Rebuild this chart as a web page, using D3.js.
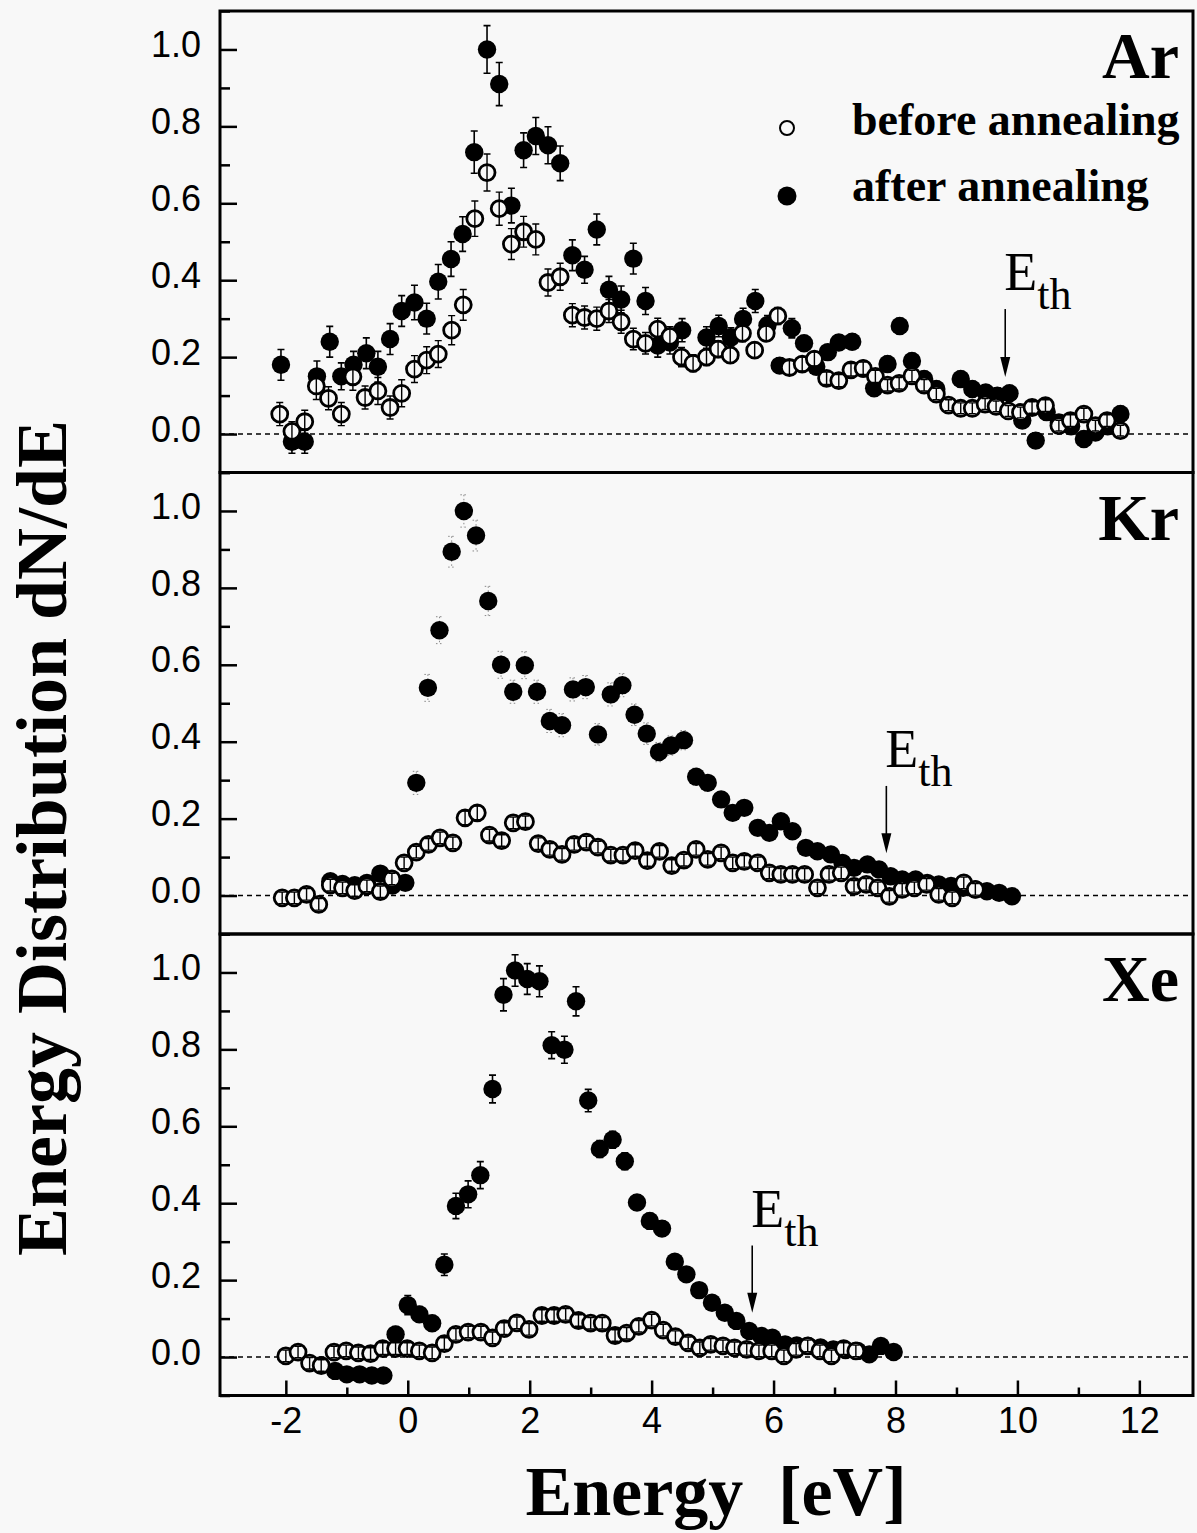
<!DOCTYPE html>
<html>
<head>
<meta charset="utf-8">
<script src="https://cdn.jsdelivr.net/npm/d3@7/dist/d3.min.js"></script>
<style>
body{margin:0;background:#f8f8f8}
svg{display:block}
</style>
</head>
<body>
<div id="chart"></div>
<script>
// rows are [energy eV, dN/dE, error]
var arBefore = [[-2.1,0.052,0.03],[-1.9,0.007,0.025],[-1.69,0.032,0.03],[-1.5,0.125,0.035],[-1.3,0.093,0.03],[-1.09,0.052,0.03],[-0.9,0.149,0.035],[-0.7,0.095,0.03],[-0.49,0.112,0.035],[-0.29,0.069,0.03],[-0.1,0.106,0.035],[0.11,0.169,0.035],[0.31,0.192,0.035],[0.5,0.208,0.035],[0.72,0.27,0.038],[0.91,0.336,0.04],[1.1,0.56,0.046],[1.3,0.68,0.048],[1.5,0.586,0.043],[1.7,0.494,0.04],[1.9,0.526,0.04],[2.1,0.506,0.04],[2.3,0.394,0.035],[2.5,0.409,0.035],[2.7,0.309,0.03],[2.9,0.303,0.03],[3.1,0.30,0.03],[3.3,0.32,0.03],[3.5,0.292,0.03],[3.7,0.247,0.028],[3.9,0.236,0.028],[4.1,0.273,0.028],[4.3,0.254,0.025],[4.49,0.2,0.025],[4.68,0.184,0.022],[4.9,0.2,0.022],[5.09,0.221,0.022],[5.29,0.205,0.02],[5.49,0.262,0.022],[5.69,0.218,0.02],[5.88,0.262,0.02],[6.07,0.307,0.022],[6.26,0.173,0.018],[6.47,0.182,0.018],[6.67,0.195,0.018],[6.87,0.145,0.016],[7.07,0.139,0.016],[7.27,0.167,0.016],[7.47,0.171,0.016],[7.67,0.15,0.016],[7.87,0.127,0.015],[8.06,0.132,0.015],[8.27,0.151,0.015],[8.47,0.127,0.015],[8.67,0.104,0.015],[8.87,0.075,0.014],[9.07,0.067,0.014],[9.26,0.067,0.014],[9.47,0.078,0.014],[9.65,0.072,0.014],[9.85,0.06,0.014],[10.05,0.056,0.014],[10.24,0.069,0.015],[10.46,0.074,0.015],[10.68,0.022,0.014],[10.87,0.035,0.015],[11.09,0.052,0.015],[11.28,0.022,0.014],[11.47,0.035,0.015],[11.69,0.009,0.014]];

var arAfter = [[-2.08,0.18,0.04],[-1.9,-0.02,0.03],[-1.69,-0.02,0.03],[-1.49,0.15,0.04],[-1.28,0.24,0.04],[-1.09,0.15,0.035],[-0.89,0.18,0.035],[-0.68,0.21,0.04],[-0.49,0.175,0.04],[-0.29,0.247,0.04],[-0.1,0.32,0.04],[0.11,0.342,0.045],[0.31,0.30,0.04],[0.5,0.396,0.045],[0.71,0.455,0.045],[0.9,0.52,0.045],[1.09,0.733,0.055],[1.3,1.0,0.062],[1.5,0.91,0.056],[1.7,0.594,0.045],[1.9,0.738,0.045],[2.1,0.775,0.048],[2.3,0.751,0.048],[2.5,0.704,0.045],[2.7,0.465,0.04],[2.9,0.427,0.035],[3.1,0.532,0.04],[3.3,0.375,0.035],[3.5,0.35,0.035],[3.7,0.456,0.04],[3.9,0.346,0.035],[4.1,0.23,0.03],[4.3,0.238,0.03],[4.5,0.27,0.03],[4.9,0.251,0.028],[5.1,0.281,0.028],[5.3,0.251,0.025],[5.5,0.299,0.028],[5.7,0.346,0.03],[5.9,0.283,0.025],[6.1,0.178,0.02],[6.3,0.275,0.025],[6.5,0.236,0.02],[6.7,0.175,0.02],[6.89,0.213,0.02],[7.07,0.238,0.02],[7.29,0.24,0.02],[7.47,0.17,0.02],[7.65,0.119,0.02],[7.87,0.182,0.02],[8.07,0.281,0.02],[8.27,0.19,0.02],[8.47,0.143,0.02],[8.67,0.117,0.02],[9.07,0.143,0.02],[9.26,0.117,0.02],[9.48,0.108,0.02],[9.67,0.10,0.02],[9.87,0.106,0.02],[10.08,0.035,0.02],[10.3,-0.017,0.02],[10.48,0.057,0.02],[10.68,0.03,0.02],[10.88,0.02,0.02],[11.09,-0.013,0.02],[11.28,0.004,0.02],[11.48,0.02,0.02],[11.69,0.052,0.02]];

var krBefore = [[-2.06,-0.006,0.015],[-1.86,-0.006,0.015],[-1.66,0.003,0.015],[-1.46,-0.023,0.015],[-1.27,0.027,0.015],[-1.07,0.02,0.015],[-0.87,0.013,0.015],[-0.67,0.025,0.015],[-0.45,0.01,0.015],[-0.26,0.043,0.015],[-0.06,0.085,0.015],[0.14,0.113,0.015],[0.34,0.133,0.015],[0.53,0.15,0.015],[0.74,0.137,0.015],[0.94,0.202,0.018],[1.14,0.215,0.018],[1.34,0.157,0.015],[1.54,0.143,0.015],[1.73,0.189,0.015],[1.93,0.192,0.015],[2.14,0.135,0.015],[2.33,0.12,0.015],[2.53,0.107,0.015],[2.73,0.133,0.015],[2.93,0.139,0.015],[3.12,0.126,0.015],[3.33,0.105,0.015],[3.53,0.105,0.015],[3.73,0.117,0.015],[3.93,0.091,0.015],[4.13,0.115,0.015],[4.33,0.078,0.015],[4.53,0.092,0.015],[4.73,0.12,0.015],[4.92,0.094,0.015],[5.14,0.111,0.015],[5.33,0.085,0.015],[5.52,0.089,0.015],[5.74,0.085,0.015],[5.93,0.059,0.015],[6.12,0.055,0.015],[6.31,0.055,0.015],[6.51,0.055,0.015],[6.72,0.02,0.015],[6.91,0.055,0.015],[7.11,0.059,0.015],[7.32,0.024,0.015],[7.52,0.029,0.015],[7.71,0.02,0.015],[7.9,-0.002,0.015],[8.11,0.016,0.015],[8.31,0.02,0.015],[8.51,0.029,0.015],[8.71,0.003,0.015],[8.93,-0.006,0.015],[9.12,0.033,0.015],[9.31,0.016,0.015]];

var krAfter = [[-1.27,0.037,0.02],[-1.07,0.03,0.02],[-0.87,0.027,0.02],[-0.67,0.033,0.02],[-0.45,0.057,0.02],[-0.25,0.026,0.02],[-0.04,0.033,0.02],[0.14,0.293,0.03],[0.33,0.54,0.035],[0.52,0.69,0.035],[0.72,0.894,0.04],[0.92,1.0,0.042],[1.12,0.936,0.04],[1.32,0.766,0.038],[1.53,0.60,0.035],[1.73,0.53,0.03],[1.92,0.599,0.035],[2.12,0.53,0.03],[2.33,0.454,0.03],[2.53,0.443,0.03],[2.71,0.536,0.03],[2.92,0.542,0.03],[3.12,0.419,0.028],[3.33,0.523,0.03],[3.52,0.547,0.03],[3.72,0.47,0.028],[3.92,0.421,0.028],[4.12,0.373,0.025],[4.32,0.39,0.025],[4.53,0.404,0.025],[4.73,0.309,0.022],[4.92,0.293,0.022],[5.14,0.25,0.02],[5.33,0.215,0.02],[5.52,0.228,0.02],[5.74,0.176,0.02],[5.93,0.163,0.02],[6.12,0.193,0.02],[6.31,0.167,0.02],[6.53,0.124,0.018],[6.72,0.115,0.018],[6.94,0.107,0.018],[7.13,0.085,0.016],[7.32,0.072,0.016],[7.54,0.081,0.016],[7.73,0.068,0.016],[7.92,0.05,0.015],[8.11,0.042,0.015],[8.33,0.042,0.015],[8.52,0.033,0.015],[8.71,0.029,0.015],[8.91,0.025,0.015],[9.11,0.02,0.015],[9.31,0.016,0.015],[9.5,0.011,0.015],[9.7,0.007,0.015],[9.91,-0.002,0.015]];

var xeBefore = [[-2.0,0.003,0.015],[-1.8,0.013,0.015],[-1.61,-0.016,0.015],[-1.42,-0.022,0.015],[-1.21,0.013,0.015],[-1.01,0.016,0.015],[-0.81,0.011,0.015],[-0.61,0.009,0.015],[-0.41,0.022,0.015],[-0.2,0.022,0.015],[-0.01,0.022,0.015],[0.19,0.016,0.015],[0.4,0.011,0.015],[0.6,0.035,0.015],[0.79,0.059,0.015],[0.99,0.065,0.015],[1.2,0.065,0.015],[1.39,0.05,0.015],[1.58,0.074,0.015],[1.79,0.089,0.015],[1.99,0.072,0.015],[2.2,0.108,0.015],[2.4,0.108,0.015],[2.59,0.111,0.015],[2.8,0.095,0.015],[3.0,0.088,0.015],[3.19,0.088,0.015],[3.4,0.056,0.015],[3.59,0.062,0.015],[3.79,0.08,0.015],[4.0,0.096,0.015],[4.19,0.07,0.015],[4.39,0.053,0.015],[4.6,0.037,0.015],[4.79,0.024,0.015],[4.97,0.033,0.015],[5.17,0.029,0.015],[5.36,0.024,0.015],[5.56,0.02,0.015],[5.76,0.016,0.015],[5.97,0.016,0.015],[6.17,0.003,0.015],[6.37,0.02,0.015],[6.56,0.029,0.015],[6.76,0.016,0.015],[6.95,0.003,0.015],[7.15,0.022,0.015],[7.35,0.016,0.015]];

var xeAfter = [[-1.19,-0.036,0.015],[-1.0,-0.045,0.015],[-0.79,-0.045,0.015],[-0.59,-0.048,0.015],[-0.4,-0.048,0.015],[-0.2,0.059,0.02],[0.0,0.135,0.025],[0.19,0.111,0.02],[0.4,0.088,0.02],[0.6,0.24,0.028],[0.79,0.393,0.033],[0.99,0.423,0.035],[1.19,0.473,0.035],[1.39,0.697,0.036],[1.57,0.942,0.042],[1.76,1.005,0.041],[1.96,0.983,0.04],[2.16,0.977,0.04],[2.36,0.811,0.035],[2.57,0.799,0.035],[2.76,0.925,0.038],[2.96,0.667,0.029],[3.15,0.541,0.022],[3.36,0.565,0.022],[3.56,0.509,0.022],[3.76,0.402,0.02],[3.97,0.354,0.02],[4.17,0.334,0.02],[4.38,0.248,0.018],[4.57,0.215,0.018],[4.78,0.174,0.016],[4.99,0.141,0.016],[5.2,0.115,0.015],[5.39,0.094,0.015],[5.6,0.068,0.015],[5.8,0.055,0.015],[5.98,0.05,0.015],[6.19,0.033,0.015],[6.38,0.03,0.015],[6.57,0.029,0.015],[6.77,0.025,0.015],[6.98,0.02,0.015],[7.18,0.018,0.015],[7.38,0.016,0.015],[7.57,0.007,0.015],[7.76,0.029,0.015],[7.97,0.013,0.015]];

var gasNames = ["Ar", "Kr", "Xe"];
var ethEnergy = [9.8, 7.85, 5.65];     // threshold arrows
var ethArrowTop = [0.325, 0.285, 0.29];
var ethArrowTip = [0.148, 0.11, 0.115];
var yMajor = [0, 0.2, 0.4, 0.6, 0.8, 1.0];
var yMinor = [-0.1, 0.1, 0.3, 0.5, 0.7, 0.9, 1.1];
var xMajor = [-2, 0, 2, 4, 6, 8, 10, 12];
var xMinor = [-1, 1, 3, 5, 7, 9, 11];
var legendLabels = ["before annealing", "after annealing"];

var panels = [
  {name: gasNames[0], before: arBefore, after: arAfter, eth: ethEnergy[0], top: ethArrowTop[0], tip: ethArrowTip[0]},
  {name: gasNames[1], before: krBefore, after: krAfter, eth: ethEnergy[1], top: ethArrowTop[1], tip: ethArrowTip[1]},
  {name: gasNames[2], before: xeBefore, after: xeAfter, eth: ethEnergy[2], top: ethArrowTop[2], tip: ethArrowTip[2]}
];

var W = 1197, H = 1533;
var plotLeft = 220, plotRight = 1193, panelTop = 11, panelH = 461.5;
var serif = "'Liberation Serif','Times New Roman',serif";
var sans = "'Liberation Sans',Arial,sans-serif";
var bg = "#f8f8f8";

var svg = d3.select("#chart").append("svg")
    .attr("width", W)
    .attr("height", H)
    .style("background", bg);

var x = d3.scaleLinear().domain([-3.08, 12.88]).range([plotLeft, plotRight]);

function errPath(d, y) {
    var cx = x(d[0]), y1 = y(d[1] + d[2]), y2 = y(d[1] - d[2]), c = 3.5;
    return "M" + (cx - c) + "," + y1 + "H" + (cx + c) +
           "M" + cx + "," + y1 + "V" + y2 +
           "M" + (cx - c) + "," + y2 + "H" + (cx + c);
}

panels.forEach(function(p, i) {
    var top = panelTop + i * panelH;
    var y = d3.scaleLinear().domain([-0.1, 1.1]).range([top + panelH, top]);
    var g = svg.append("g");

    // dotted zero line
    g.append("line")
        .attr("x1", plotLeft).attr("x2", plotRight)
        .attr("y1", y(0)).attr("y2", y(0))
        .style("stroke", "#000").style("stroke-width", 1.6)
        .style("stroke-dasharray", "5,4");

    // y axis, ticks point inward
    var ax = g.append("g").attr("transform", "translate(" + plotLeft + ",0)")
        .call(d3.axisLeft(y).tickValues(yMajor).tickSize(-17).tickPadding(19)
            .tickFormat(function(d) { return d.toFixed(1); }));
    ax.selectAll("text").attr("dy", "0.2em")
        .style("font-family", sans).style("font-size", "36px").style("fill", "#000");
    var axm = g.append("g").attr("transform", "translate(" + plotLeft + ",0)")
        .call(d3.axisLeft(y).tickValues(yMinor).tickSize(-10).tickFormat(""));
    g.selectAll(".domain").remove();
    g.selectAll(".tick line").style("stroke-width", 2.5);

    if (i == 2) {
        var bx = g.append("g").attr("transform", "translate(0," + (top + panelH) + ")")
            .call(d3.axisBottom(x).tickValues(xMajor).tickSize(-15).tickPadding(12)
                .tickFormat(function(d) { return String(d); }));
        bx.selectAll("text")
            .style("font-family", sans).style("font-size", "36px").style("fill", "#000");
        var bxm = g.append("g").attr("transform", "translate(0," + (top + panelH) + ")")
            .call(d3.axisBottom(x).tickValues(xMinor).tickSize(-8).tickFormat(""));
        g.selectAll(".domain").remove();
        g.selectAll(".tick line").style("stroke-width", 2.5);
    }

    // after annealing: filled
    var faint = (i == 1);
    g.append("g").selectAll("path")
        .data(p.after).enter().append("path")
        .attr("d", function(d) { return errPath(d, y); })
        .style("fill", "none")
        .style("stroke", faint ? "#888" : "#000")
        .style("stroke-width", faint ? 1 : 1.6)
        .style("stroke-dasharray", faint ? "1.5,2.5" : null);
    g.append("g").selectAll("circle")
        .data(p.after).enter().append("circle")
        .attr("cx", function(d) { return x(d[0]); })
        .attr("cy", function(d) { return y(d[1]); })
        .attr("r", 9.2)
        .style("fill", "#000");

    // before annealing: open
    g.append("g").selectAll("circle")
        .data(p.before).enter().append("circle")
        .attr("cx", function(d) { return x(d[0]); })
        .attr("cy", function(d) { return y(d[1]); })
        .attr("r", 8)
        .style("fill", bg)
        .style("stroke", "#000")
        .style("stroke-width", 2.8);
    g.append("g").selectAll("path")
        .data(p.before).enter().append("path")
        .attr("d", function(d) { return errPath(d, y); })
        .style("fill", "none")
        .style("stroke", "#000")
        .style("stroke-width", 1.4);

    // frame
    g.append("rect")
        .attr("x", plotLeft).attr("y", top)
        .attr("width", plotRight - plotLeft).attr("height", panelH)
        .style("fill", "none").style("stroke", "#000").style("stroke-width", 3);

    // gas label
    g.append("text")
        .attr("x", 1179).attr("y", top + 67)
        .attr("text-anchor", "end")
        .style("font-family", serif).style("font-weight", "bold").style("font-size", "66px")
        .text(p.name);

    // threshold arrow
    var ax0 = x(p.eth), yTop = y(p.top), yTip = y(p.tip);
    g.append("line")
        .attr("x1", ax0).attr("x2", ax0)
        .attr("y1", yTop).attr("y2", yTip - 15)
        .style("stroke", "#000").style("stroke-width", 1.6);
    g.append("path")
        .attr("d", "M" + (ax0 - 5) + "," + (yTip - 20) + "L" + (ax0 + 5) + "," + (yTip - 20) +
              "L" + ax0 + "," + yTip + "Z")
        .style("fill", "#000");
    var et = g.append("text")
        .attr("x", ax0 - 1).attr("y", yTop - 19)
        .style("font-family", serif).style("font-size", "54px")
        .text("E");
    et.append("tspan").attr("dy", 19).style("font-size", "44px").text("th");
});

// legend in the Ar panel
var leg = svg.append("g");
leg.append("circle").attr("cx", 787).attr("cy", 128).attr("r", 7)
    .style("fill", bg).style("stroke", "#000").style("stroke-width", 2);
leg.append("circle").attr("cx", 787).attr("cy", 196).attr("r", 9.5)
    .style("fill", "#000");
leg.selectAll("text").data(legendLabels).enter().append("text")
    .attr("x", 852)
    .attr("y", function(d, i) { return i == 0 ? 135 : 201; })
    .style("font-family", serif).style("font-weight", "bold").style("font-size", "46px")
    .text(function(d) { return d; });

// axis titles
svg.append("text")
    .attr("transform", "translate(66,838) rotate(-90)")
    .attr("text-anchor", "middle")
    .style("font-family", serif).style("font-weight", "bold").style("font-size", "72px")
    .text("Energy Distribution dN/dE");
svg.append("text")
    .attr("x", 716).attr("y", 1515)
    .attr("text-anchor", "middle")
    .style("font-family", serif).style("font-weight", "bold").style("font-size", "70px")
    .text("Energy\u00a0\u00a0[eV]");
</script>
</body>
</html>
